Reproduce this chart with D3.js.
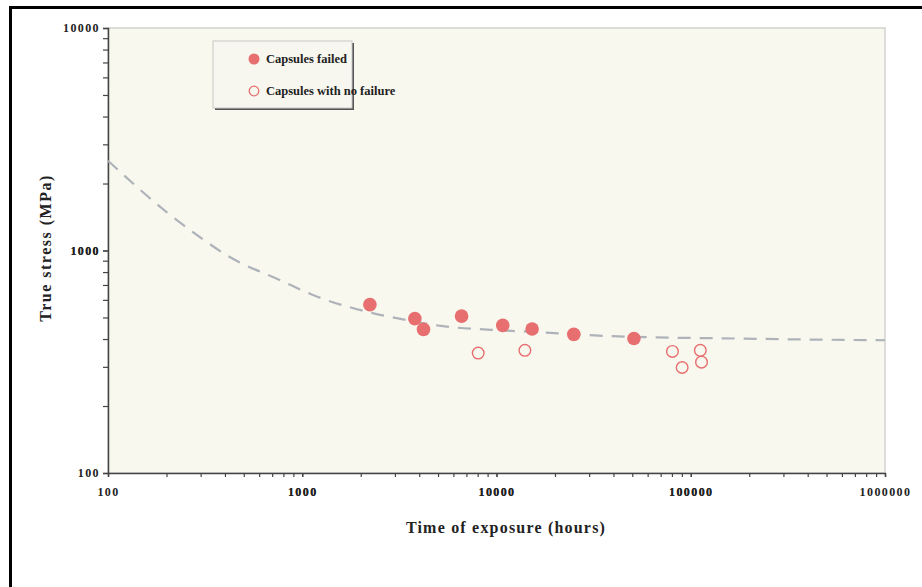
<!DOCTYPE html>
<html>
<head>
<meta charset="utf-8">
<script src="https://cdn.jsdelivr.net/npm/d3@7"></script>
<style>
  html, body { margin: 0; padding: 0; background: #ffffff; }
  svg { display: block; }
  text { font-family: "Liberation Serif", "Times New Roman", serif; font-weight: bold; }
</style>
</head>
<body>
<svg id="chart" width="922" height="587"></svg>
<script>
// ---- Data ----
const failedHours  = [2230, 3800, 4210, 6610, 10770, 15250, 25000, 51000];
const failedStress = [571, 494, 442, 507, 461, 444, 420, 402];

const noFailHours  = [8050, 14000, 80500, 90300, 112000, 113600];
const noFailStress = [346, 356, 352, 298, 356, 315];

const curveHours  = [100, 201, 298, 410, 772, 1195, 2330, 3480, 5170, 9370, 16970, 27300, 65000, 144000, 318000, 1000000];
const curveStress = [2533, 1485, 1147, 950, 734, 620, 522, 486, 458, 440, 429, 418, 407, 403, 399, 395];

const xTickValues = [100, 1000, 10000, 100000, 1000000];
const xTickLabels = ["100", "1000", "10000", "100000", "1000000"];
const yTickValues = [100, 1000, 10000];
const yTickLabels = ["100", "1000", "10000"];

const legendLabels = ["Capsules failed", "Capsules with no failure"];
const xTitle = "Time of exposure (hours)";
const yTitle = "True stress (MPa)";

// ---- Layout ----
const svg = d3.select("#chart");
const plot = { left: 108, right: 885, top: 28, bottom: 473 };
const markColor = "#e76f6f";

// outer black frame (left and top edges visible)
svg.append("line").attr("x1", 9).attr("x2", 922).attr("y1", 7.5).attr("y2", 7.5)
  .attr("stroke", "#000").attr("stroke-width", 3);
svg.append("line").attr("x1", 10.5).attr("x2", 10.5).attr("y1", 6).attr("y2", 587)
  .attr("stroke", "#000").attr("stroke-width", 3);

const x = d3.scaleLog().domain([100, 1000000]).range([plot.left, plot.right]);
const y = d3.scaleLog().domain([100, 10000]).range([plot.bottom, plot.top]);

// plot background
svg.append("rect")
  .attr("x", plot.left).attr("y", plot.top)
  .attr("width", plot.right - plot.left).attr("height", plot.bottom - plot.top)
  .attr("fill", "#f9f8ef")
  .attr("stroke", "#d2d2d0").attr("stroke-width", 1.5);

// minor ticks
const minorX = [];
for (let d = 100; d < 1000000; d *= 10) for (let k = 1; k <= 10; k++) minorX.push(d * k);
const minorY = [];
for (let d = 100; d < 10000; d *= 10) for (let k = 1; k <= 10; k++) minorY.push(d * k);

const xAxis = d3.axisBottom(x).tickValues(minorX).tickSize(4)
  .tickFormat(v => { const i = xTickValues.indexOf(v); return i >= 0 ? xTickLabels[i] : ""; });
const gx = svg.append("g").attr("transform", `translate(0,${plot.bottom})`).call(xAxis);
gx.attr("font-family", null);
gx.select(".domain").attr("stroke", "#444").attr("stroke-width", 1.5);
gx.selectAll(".tick line").attr("stroke", "#444").attr("stroke-width", 1.2);
gx.selectAll(".tick text").attr("font-size", 12).attr("fill", "#222")
  .attr("y", 0).attr("dy", "1.95em").attr("letter-spacing", 1.4)
  .attr("font-family", "Liberation Serif, serif").attr("font-weight", "bold");

const yAxis = d3.axisLeft(y).tickValues(minorY).tickSize(5)
  .tickFormat(v => { const i = yTickValues.indexOf(v); return i >= 0 ? yTickLabels[i] : ""; });
const gy = svg.append("g").attr("transform", `translate(${plot.left},0)`).call(yAxis);
gy.attr("font-family", null);
gy.select(".domain").attr("stroke", "#444").attr("stroke-width", 1.5);
gy.selectAll(".tick line").attr("stroke", "#444").attr("stroke-width", 1.2);
gy.selectAll(".tick text").attr("font-size", 12).attr("fill", "#222").attr("x", -8)
  .attr("letter-spacing", 1.4)
  .attr("font-family", "Liberation Serif, serif").attr("font-weight", "bold");

// dashed fitted curve
const curveData = curveHours.map((h, i) => [h, curveStress[i]]);
svg.append("path")
  .datum(curveData)
  .attr("d", d3.line().x(d => x(d[0])).y(d => y(d[1])).curve(d3.curveMonotoneX))
  .attr("fill", "none")
  .attr("stroke", "#aeb3ba")
  .attr("stroke-width", 2.2)
  .attr("stroke-dasharray", "13,9");

// failed capsules (filled)
svg.append("g").selectAll("circle")
  .data(failedHours.map((h, i) => [h, failedStress[i]]))
  .join("circle")
  .attr("cx", d => x(d[0])).attr("cy", d => y(d[1]))
  .attr("r", 6.8).attr("fill", markColor);

// capsules with no failure (open)
svg.append("g").selectAll("circle")
  .data(noFailHours.map((h, i) => [h, noFailStress[i]]))
  .join("circle")
  .attr("cx", d => x(d[0])).attr("cy", d => y(d[1]))
  .attr("r", 5.8).attr("fill", "none")
  .attr("stroke", markColor).attr("stroke-width", 1.4);

// legend
const lg = svg.append("g");
lg.append("rect").attr("x", 215).attr("y", 43).attr("width", 139).attr("height", 67)
  .attr("fill", "#555");
lg.append("rect").attr("x", 213).attr("y", 41).attr("width", 139).attr("height", 67)
  .attr("fill", "#f8f7ef").attr("stroke", "#c8c8c8").attr("stroke-width", 1);
const rows = [59, 91];
lg.append("circle").attr("cx", 254).attr("cy", rows[0]).attr("r", 5.5).attr("fill", markColor);
lg.append("circle").attr("cx", 254).attr("cy", rows[1]).attr("r", 4.8)
  .attr("fill", "none").attr("stroke", markColor).attr("stroke-width", 1.3);
legendLabels.forEach((t, i) => {
  lg.append("text").attr("x", 266).attr("y", rows[i]).attr("dy", "0.35em")
    .attr("font-size", 12.5).attr("fill", "#222").text(t);
});

// axis titles
svg.append("text").attr("x", 506).attr("y", 527).attr("dy", "0.35em")
  .attr("text-anchor", "middle").attr("font-size", 16).attr("letter-spacing", 1.2)
  .attr("fill", "#222").text(xTitle);
svg.append("text")
  .attr("transform", `translate(45,248) rotate(-90)`)
  .attr("dy", "0.35em")
  .attr("text-anchor", "middle").attr("font-size", 16).attr("letter-spacing", 1.5)
  .attr("fill", "#222").text(yTitle);
</script>
</body>
</html>
